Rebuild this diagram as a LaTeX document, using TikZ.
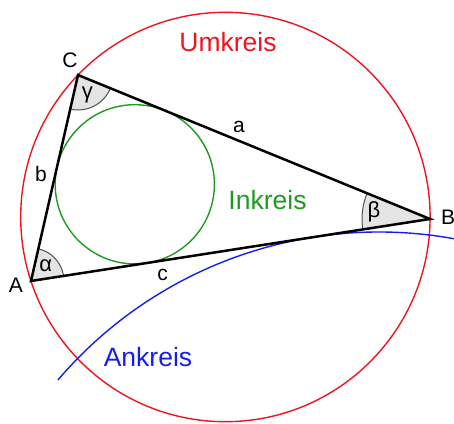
\documentclass[tikz,border=0pt]{standalone}
\usepackage{fontspec}
\setmainfont{Liberation Sans}
\usetikzlibrary{angles}
\definecolor{umred}{RGB}{240,20,30}
\definecolor{ingreen}{RGB}{30,155,30}
\definecolor{anblue}{RGB}{20,30,240}
\definecolor{angfill}{RGB}{228,228,228}
\definecolor{angline}{RGB}{80,80,80}
\tikzset{
  side/.style={line width=2.5pt, black, line join=miter},
  circ/.style={line width=1.4pt},
  angmark/.style={draw=angline, fill=angfill, line width=1pt},
  biglabel/.style={inner sep=0pt, anchor=base, font=\fontsize{26.5}{30}\selectfont},
  smalllabel/.style={inner sep=0pt, anchor=base, font=\fontsize{21}{25}\selectfont},
  greeklabel/.style={inner sep=0pt, anchor=base, font=\fontsize{22}{26}\selectfont},
}
\begin{document}
\begin{tikzpicture}[x=1pt,y=1pt]
\useasboundingbox (0,0) rectangle (454,423);
\clip (0,0) rectangle (454,423);
% vertices
\coordinate (A) at (31,142);
\coordinate (B) at (430,204);
\coordinate (C) at (78,348);
% centres
\coordinate (U) at (225.4,206.0);
\coordinate (I) at (134.8,238.7);
\coordinate (E) at (378.9,-231.2);
% circles
\draw[circ, umred] (U) circle[radius=204.7];
\draw[circ, ingreen] (I) circle[radius=79.6];
\draw[circ, anblue] (E) ++(139.5:422.2) arc[start angle=139.5, end angle=74, radius=422.2];
% angle marks
\pic[angmark, angle radius=33pt] {angle=B--A--C};
\pic[angmark, angle radius=35pt] {angle=A--C--B};
\pic[angmark, angle radius=68pt] {angle=C--B--A};
% triangle
\draw[side] (A) -- (B) -- (C) -- cycle;
% vertex labels
\node[smalllabel] (lA) at (16,130.3) {A};
\node[smalllabel] (lB) at (448,198) {B};
\node[smalllabel] (lC) at (70,355.7) {C};
% side labels
\node[smalllabel] (la) at (239,290.7) {a};
\node[smalllabel] (lb) at (41,241.3) {b};
\node[smalllabel] (lc) at (162.5,143) {c};
% angle labels
\node[greeklabel] (lal) at (45.8,151.3) {α};
\node[greeklabel] (lbe) at (374,205.5) {β};
\node[greeklabel] (lga) at (87.3,324.5) {γ};
% circle labels
\node[biglabel, text=umred] (lU) at (228,371.3) {Umkreis};
\node[biglabel, text=ingreen] (lI) at (267.5,213) {Inkreis};
\node[biglabel, text=anblue] (lE) at (148,56.3) {Ankreis};
\end{tikzpicture}
\end{document}
